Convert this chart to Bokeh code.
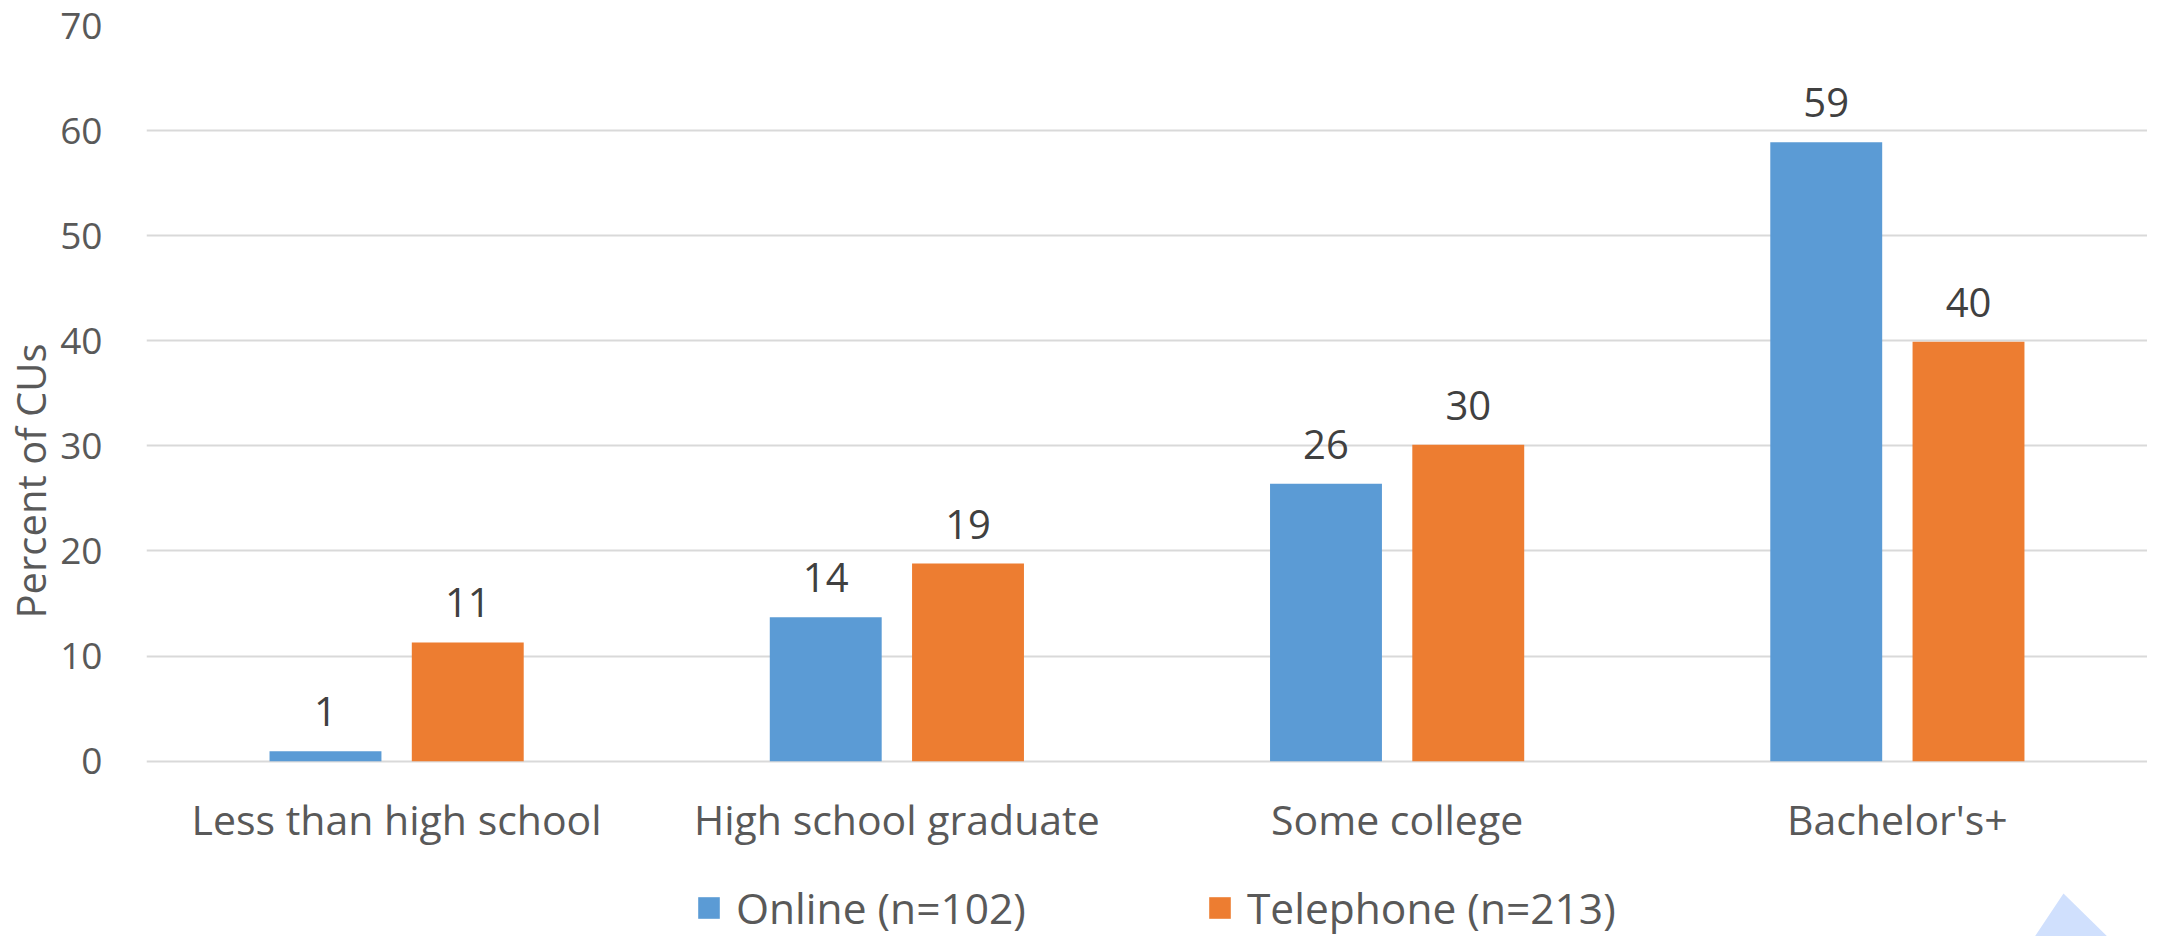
from bokeh.plotting import figure
from bokeh.models import (ColumnDataSource, FactorRange, Legend, LegendItem,
                          LabelSet, FixedTicker, PolyAnnotation, Title)
from bokeh.transform import dodge
from bokeh.core.properties import value
from bokeh.embed import file_html
from bokeh.resources import INLINE

# ---- data ----
categories = ["Less than high school", "High school graduate", "Some college", "Bachelor's+"]
online = [0.95, 13.7, 26.4, 58.9]
telephone = [11.3, 18.8, 30.1, 39.9]
online_labels = ["1", "14", "26", "59"]
telephone_labels = ["11", "19", "30", "40"]
series_names = ["Online (n=102)", "Telephone (n=213)"]
y_ticks = [0, 10, 20, 30, 40, 50, 60, 70]
y_title = "Percent of CUs"

BLUE = "#5b9bd5"
ORANGE = "#ed7d31"
GRID = "#d9d9d9"
TXT = "#595959"
LBL = "#404040"
FONT = "Open Sans"

OFF = 0.1422
BW = 0.2237
Y_LOW = -16.68   # frame continues below 0 to hold the category labels and legend

src = ColumnDataSource(dict(cat=categories, online=online, telephone=telephone,
                            ol=online_labels, tl=telephone_labels))

p = figure(width=2147, height=936, x_range=FactorRange(*categories), y_range=(Y_LOW, 70),
           output_backend="svg", toolbar_location=None,
           min_border_left=146, min_border_right=0, min_border_top=25, min_border_bottom=0)

r1 = p.vbar(x=dodge("cat", -OFF, range=p.x_range), top="online", width=BW, source=src,
            fill_color=BLUE, line_color=None)
r2 = p.vbar(x=dodge("cat", OFF, range=p.x_range), top="telephone", width=BW, source=src,
            fill_color=ORANGE, line_color=None)

for field, txt, off in (("online", "ol", -OFF), ("telephone", "tl", OFF)):
    p.add_layout(LabelSet(x=dodge("cat", off, range=p.x_range), y=field, text=txt, source=src,
                          text_align="center", text_baseline="alphabetic", y_offset=25,
                          text_font=value(FONT), text_font_size="40px", text_color=LBL))

# category axis drawn at y = 0
p.xaxis.fixed_location = 0
p.xaxis.major_label_text_font = FONT
p.xaxis.major_label_text_font_size = "41px"
p.xaxis.major_label_text_color = TXT
p.xaxis.major_label_standoff = 24
p.xaxis.major_tick_line_color = None
p.xaxis.minor_tick_line_color = None
p.xaxis.axis_line_color = None

p.yaxis.ticker = FixedTicker(ticks=y_ticks)
p.yaxis.bounds = (0, 70)
p.yaxis.major_label_text_font = FONT
p.yaxis.major_label_text_font_size = "37px"
p.yaxis.major_label_text_color = TXT
p.yaxis.major_label_standoff = 38
p.yaxis.major_tick_line_color = None
p.yaxis.minor_tick_line_color = None
p.yaxis.axis_line_color = None

# y axis title, centred on the 0-70 part of the frame
p.add_layout(Title(text=y_title, align="center", offset=70, standoff=0,
                   text_font=FONT, text_font_size="40px", text_font_style="normal",
                   text_color=TXT), "left")

p.ygrid.ticker = FixedTicker(ticks=y_ticks)
p.ygrid.grid_line_color = GRID
p.ygrid.grid_line_width = 2
p.xgrid.grid_line_color = None
p.outline_line_color = None

legend = Legend(items=[LegendItem(label=series_names[0], renderers=[r1]),
                       LegendItem(label=series_names[1], renderers=[r2])],
                orientation="horizontal", location=(549, 0),
                glyph_width=27, glyph_height=27, label_standoff=14, spacing=180,
                padding=0, margin=0, border_line_color=None, background_fill_alpha=0,
                label_text_font=FONT, label_text_font_size="42.5px", label_text_color=TXT)
p.add_layout(legend, "center")

# light-blue triangle at the bottom right corner
p.add_layout(PolyAnnotation(xs=[2063, 2029, 2115], ys=[893, 944, 944],
                            xs_units="canvas", ys_units="canvas",
                            fill_color="#d0e0fd", fill_alpha=1, line_color=None))

open("out.html", "w").write(file_html(p, INLINE))
